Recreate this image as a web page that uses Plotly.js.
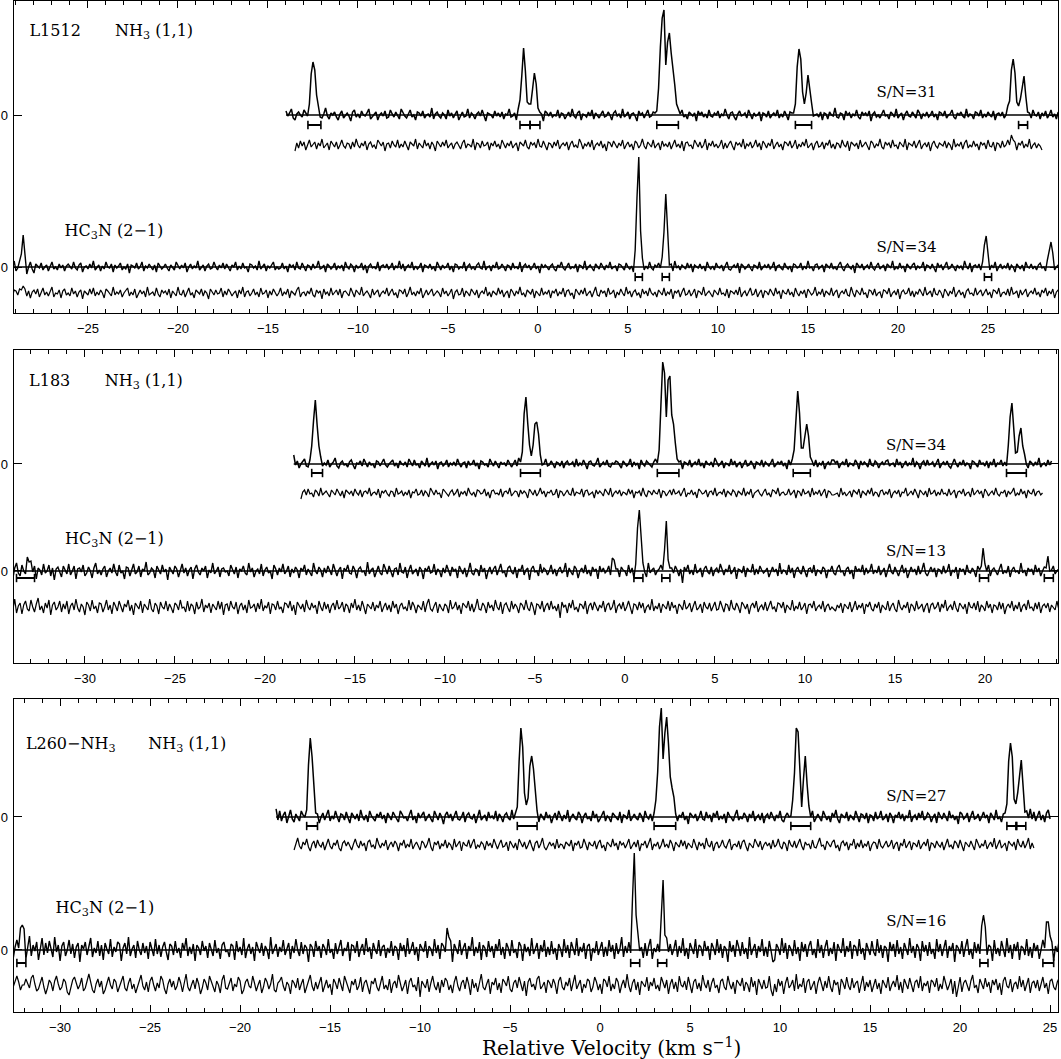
<!DOCTYPE html>
<html>
<head>
<meta charset="utf-8">
<script src="https://cdn.plot.ly/plotly-3.0.1.min.js"></script>
<style>html,body{margin:0;padding:0;background:#fff}#chart{width:1061px;height:1059px}</style>
</head>
<body>
<div id="chart"></div>
<script>
// ---------------- DATA (intensities in arbitrary units, channel step in km/s) ----------------
const STEP = 0.1;

// Panel 1: L1512
const l1512_nh3_start = -14.0;
const l1512_nh3_noise = [
4,-1,2,6,-3,-5,1,3,0,-2,5,2,-4,-1,3,-6,0,2,4,-2,-3,1,7,-1,-4,2,0,3,-2,-5,
1,4,-3,0,2,-1,-6,3,5,-2,1,-3,4,0,-1,2,6,-4,-2,1,3,-5,0,2,-1,4,-3,-2,5,1,
-2,3,0,-4,6,2,-1,-3,1,5,-2,0,-5,3,2,-1,4,-3,0,1,-2,7,-4,1,3,-1,-3,2,0,-4,
5,-1,2,-3,1,4,-5,0,3,-2,-1,6,-3,2,0,-4,1,3,-1,5,-2,-6,2,1,0,-3,4,-1,2,-2,
3,-4,1,0,6,-2,-1,2,-5,3,1,-3,4,0,-2,5,-1,-4,2,3,-3,0,1,-6,4,2,-1,3,-2,0,
-1,5,-3,2,1,-4,0,3,-2,6,-1,-3,2,4,-5,1,0,-2,3,-1,5,-4,2,0,-3,1,4,-2,-1,3,
0,-5,2,4,-1,1,-3,6,-2,0,3,-4,1,2,-1,-6,4,0,2,-3,1,5,-2,-1,3,0,-4,2,6,-3,
1,-2,3,-5,0,4,2,-3,1,-1,5,-2,0,-4,3,1,-1,2,-6,4,0,3,-2,1,-3,5,-1,-2,2,0,
4,-3,1,-1,6,0,-4,2,3,-2,-5,1,4,-1,0,2,-3,5,1,-4,2,-1,0,3,-6,2,1,-2,4,-3,
0,2,-1,5,-3,1,-2,4,0,-5,3,2,-1,-3,6,0,-2,1,3,-4,2,-1,5,-3,0,1,-2,3,-5,2,
1,-4,3,0,-1,7,-2,-3,2,1,-5,4,0,2,-3,1,-1,5,-2,-4,3,0,2,-1,4,-6,1,3,-2,0,
-3,2,5,-1,0,-4,3,1,-2,6,-3,0,2,-5,1,4,-1,-2,3,0,-3,5,2,-4,1,-1,3,-2,0,4,
-2,1,-5,3,2,-1,4,-3,0,1,5,-2,-4,2,0,3,-1,-3,6,-2,1,0,-4,3,2,-1,5,-3,1,-2,
3,0,-2,4,-5,1,2,-1,3,-3,0,6,-2,1,-4,2,-1,3,0,-5,4,1,-2,2,-3,5,0,-1,3,-4,
2,-1,4,-3,0,5,-2,1,-4,3];
const l1512_nh3_lines = [
[-12.8,3],[-12.7,12],[-12.6,38],[-12.5,59],[-12.4,45],[-12.3,18],[-12.2,5],
[-1.1,3],[-1.0,14],[-0.9,42],[-0.8,63],[-0.7,44],[-0.6,15],[-0.5,6],[-0.4,12],[-0.3,30],[-0.2,40],[-0.1,28],[0.0,10],[0.1,3],
[6.5,2],[6.6,8],[6.7,25],[6.8,62],[6.9,100],[7.0,104],[7.1,52],[7.2,70],[7.3,87],[7.4,62],[7.5,38],[7.6,28],[7.7,14],[7.8,5],[7.9,2],
[14.2,3],[14.3,14],[14.4,42],[14.5,66],[14.6,58],[14.7,22],[14.8,8],[14.9,26],[15.0,38],[15.1,24],[15.2,7],[15.3,2],
[26.1,3],[26.2,16],[26.3,44],[26.4,60],[26.5,40],[26.6,14],[26.7,6],[26.8,16],[26.9,32],[27.0,35],[27.1,18],[27.2,5]];
const l1512_nh3res_start = -13.5;
const l1512_nh3res_noise = [
-6,2,-3,4,-1,3,-5,1,5,-2,0,3,-4,2,-1,6,-3,0,2,-5,4,1,-2,3,-4,0,5,-1,-3,2,
1,-4,3,-2,6,0,-3,2,-1,4,-5,1,3,-2,0,-4,5,2,-1,3,-6,1,2,-3,4,0,-2,5,-3,1,
-2,4,0,-5,3,1,-1,6,-4,2,0,-3,5,-1,2,-4,3,0,-6,4,1,-2,3,-1,5,-3,0,2,-4,1,
3,-1,-4,2,5,-3,1,0,-2,6,-5,2,1,-3,4,-1,0,3,-5,2,-1,4,-2,1,-4,5,0,-3,2,-1,
4,-3,0,2,-6,3,1,-1,5,-2,-4,3,0,2,-3,6,-1,-2,4,0,-5,2,1,-3,3,-1,5,-4,0,2,
-1,3,-5,1,4,-2,0,-3,6,2,-4,1,-1,3,-2,5,-5,0,2,-1,4,-3,1,-6,3,2,-2,4,0,-3,
2,-1,5,-4,0,3,-2,1,-5,4,2,-3,0,6,-1,-4,3,1,-2,5,-3,0,2,-5,4,-1,1,-2,3,-4,
0,5,-2,1,-3,4,-6,2,3,-1,0,-4,5,1,-2,3,-3,0,6,-5,2,-1,4,-2,1,-3,0,5,-4,2,
-3,1,4,-1,-5,3,0,2,-2,6,-4,1,-1,3,-3,0,5,-2,2,-5,4,1,-3,2,-1,6,-4,0,3,-2,
1,-5,3,2,-1,4,-3,0,5,-4,1,-2,3,-1,6,-3,0,2,-5,1,4,-2,-1,3,-4,2,0,5,-3,1,
-4,2,1,-3,5,0,-2,4,-6,3,1,-1,2,-4,5,-2,0,3,-1,-5,4,2,-3,1,-1,6,-2,-4,3,0,
2,-3,5,-1,0,-4,3,1,-2,6,-5,2,0,-1,4,-3,1,5,-4,0,2,-2,3,-6,1,4,-1,-3,2,0,
-1,4,-3,2,0,-5,6,-2,1,-1,3,-4,2,5,-3,0,-2,4,-1,1,-5,3,0,2,-4,5,-1,-2,3,-6,
2,1,-3,4,-2,0,5,-4,1,-1,3,-5,2,0,4,-3,1,-2,6,-4,0,2,-3,1,-1,-5];
const l1512_nh3res_lines = [[26.2,4],[26.3,9],[26.4,6]];
const l1512_hc3n_start = -29.3;
const l1512_hc3n_noise = [
3,-2,6,-4,-1,2,-5,4,1,-3,0,5,-2,-6,3,1,-1,4,-3,0,2,-4,1,5,-2,0,-3,3,-1,2,
-4,1,3,0,-2,5,-1,-3,2,4,-5,0,1,-2,3,-1,6,-3,0,2,-4,1,-2,5,0,-1,3,-5,2,-1,
1,4,-3,0,-2,3,-6,2,1,-1,4,-2,0,5,-4,1,-1,3,0,-3,2,-5,4,1,-2,0,3,-1,-4,2,
0,-3,5,1,-2,2,-1,4,-5,0,3,-2,1,-1,6,-3,0,2,-4,1,3,-2,-1,5,0,-3,2,-1,4,-2,
3,-1,-4,2,0,5,-3,1,-2,4,-1,0,-5,3,2,-1,1,-3,6,-2,0,3,-4,1,-1,2,5,-3,0,-2,
-1,4,-2,1,-5,3,0,2,-3,5,-1,-2,4,0,-4,2,1,-3,3,-1,0,6,-2,-1,2,-5,3,1,-2,0,
4,-3,1,-1,2,-4,5,0,-2,3,1,-5,2,-1,0,4,-3,2,-6,1,3,-1,0,-2,5,-4,1,2,-1,3,
-2,0,4,-3,1,-1,6,-2,3,-4,0,2,-1,5,-3,1,-2,0,4,-5,2,1,-1,3,-2,0,-4,5,1,-3,
2,-1,0,4,-3,1,-5,3,2,-2,0,-1,5,-4,1,3,-2,0,-3,2,4,-1,-2,6,-3,0,1,-4,2,-1,
5,-2,-1,3,0,-4,2,1,-3,4,-1,0,-2,5,-5,1,3,-1,2,-3,0,4,-2,1,-6,3,-1,2,0,-3,
1,3,-2,-4,2,0,5,-1,-3,1,4,-2,0,-1,3,-5,2,1,-2,6,-3,0,2,-1,-4,3,1,-2,4,0,
-3,2,-1,5,-2,0,1,-4,3,2,-1,-3,4,0,-2,1,-5,3,-1,2,0,4,-3,1,-2,5,-1,-3,2,0,
4,-1,2,-5,1,0,-2,3,-4,6,-1,1,-3,2,0,-2,4,-1,3,-5,2,0,-1,3,-2,1,-4,5,0,-2,
1,-3,4,0,-1,2,-4,1,5,-2,-3,0,2,-1,4,-6,3,1,-2,0,3,-1,-4,2,1,-2,5,-3,0,2,
-1,3,-2,0,5,-4,1,2,-1,-3,4,0,-2,1,-5,3,2,-1,0,4,-3,1,-2,6,-1,0,-4,2,3,-2,
0,2,-5,3,1,-1,4,-2,0,-3,2,5,-1,-4,1,3,0,-2,2,-6,4,1,-1,3,-3,0,2,-2,5,-1,
-3,1,4,-2,0,2,-4,3,1,-1,6,-3,0,-2,4,-1,1,-5,3,0,-2,2,4,-3,1,-1,0,5,-4,2,
1,-2,3,-1,-5,4,0,2,-3,1,5,-2,-1,3,0,-4,2,-1,1,-3,6,0,-2,4,-5,1,2,-1,3,-3,
0,4,-2,1,-3,2,-1,5,-4,0,3,-2,1,-1,4,-3,2,0,-5,3,1,-2,2,-4,5,0,-1,3,-2,1,
-3,2,4,-1,0,-4,3,1,-2,5,-3,0,2,-1];
const l1512_hc3n_lines = [
[-28.8,5],[-28.7,18],[-28.6,28],[-28.5,12],[-28.4,-4],
[5.4,14],[5.5,70],[5.6,108],[5.7,36],[5.8,5],
[6.9,8],[7.0,40],[7.1,72],[7.2,30],[7.3,4],
[24.7,5],[24.8,18],[24.9,33],[25.0,12],
[28.3,4],[28.4,14],[28.5,27],[28.6,9]];
const l1512_hc3nres_start = -29.3;
const l1512_hc3nres_noise = [
1,-4,3,2,-2,4,3,7,4,-3,2,-5,1,3,-1,4,-4,0,5,-2,1,-3,2,6,-4,0,-1,3,-5,2,
4,-2,0,-3,5,-1,2,-4,1,3,-6,2,0,-2,4,-1,5,-3,1,-2,3,0,-5,4,2,-1,-3,6,-2,1,
-1,3,-4,0,2,5,-3,1,-2,4,-5,0,3,-1,2,-4,6,-2,0,1,-3,5,-1,-4,3,0,2,-2,4,-5,
2,0,-3,6,-1,-2,3,-4,1,5,-2,0,-5,3,1,-1,4,-3,2,0,-6,4,1,-2,3,-1,0,5,-4,2,
-2,4,1,-3,0,2,-5,3,-1,6,-4,1,2,-3,0,4,-2,1,-4,5,-1,0,3,-5,2,-2,4,1,-3,0,
5,-3,1,-1,4,-5,2,0,-2,3,6,-4,0,1,-3,2,-1,5,-2,-4,3,0,2,-6,4,-1,1,-3,5,-2,
0,3,-2,4,-5,1,2,-1,-3,5,0,-4,3,1,-2,6,-3,0,2,-1,-5,4,-2,1,3,-4,0,2,-1,5,
-3,1,4,-2,0,-5,3,2,-1,4,-4,0,6,-2,1,-3,2,-1,5,-5,0,3,-2,1,4,-3,-1,2,0,-4,
5,-1,2,-3,0,4,-6,1,3,-2,-1,5,-4,2,0,-3,4,1,-2,3,-5,0,2,-1,6,-3,1,-4,2,0,
-2,5,-1,3,-4,0,2,-5,4,1,-3,2,-1,6,-2,0,-4,3,1,-1,4,-5,2,0,-3,5,-2,1,-1,3,
-5,2,0,4,-3,1,-1,5,-4,2,3,-2,0,-6,4,1,-2,3,-1,5,-3,0,2,-4,1,6,-2,-3,3,0,
2,-4,5,-1,0,3,-5,1,-2,4,0,-3,6,-1,2,-4,1,3,-2,0,-5,4,-1,2,-3,5,0,-2,1,-4,
3,0,-2,5,-3,1,-1,4,-6,2,0,3,-4,1,5,-2,-1,3,-3,0,4,-5,2,1,-2,6,-3,0,2,-1,
-4,3,1,-2,5,-1,0,-3,4,-5,2,1,-1,3,-2,6,-4,0,2,-3,1,5,-2,-1,4,-4,0,3,-5,2,
1,-2,4,0,-3,5,-1,2,-6,3,0,-1,4,-2,1,-4,5,0,-3,2,-1,3,-5,4,1,-2,0,6,-3,1,
-1,4,-4,2,0,-2,5,-3,1,3,-5,0,2,-1,4,-2,-3,6,0,-4,3,1,-2,5,-1,0,-5,3,2,-2,
4,-3,0,1,-5,3,2,-1,5,-4,0,2,-2,4,-6,1,3,-1,0,5,-3,2,-4,1,-1,4,0,-3,6,-2,
0,2,-4,5,-1,-2,3,0,-5,4,1,-3,2,-1,6,-4,0,3,-2,1,-5,2,4,-1,0,-3,5,-2,1,3,
-3,0,4,-2,1,-5,3,2,-1,5,-4,0,1,-2,4,-3,6,-1,0,2,-5,3,-2,1,4,-4,0,2,-1,5,
-2,1,-4,3,0,5,-3,2,-1,4,-5,1,3,-2];
const l1512_hc3nres_lines = [];

// Panel 2: L183
const l183_nh3_start = -18.4;
const l183_nh3_noise = [
9,-1,3,-4,0,2,5,-2,-3,1,4,-1,0,-5,2,3,-2,1,-1,4,-3,0,2,6,-2,-4,1,3,-1,0,
-3,2,4,-1,-5,1,0,3,-2,5,1,-3,2,-1,0,-4,3,2,-2,1,5,-1,-3,0,2,4,-2,1,-4,3,
0,-1,2,-3,5,1,-2,4,-1,0,-4,3,1,-2,6,-3,0,2,-1,3,-5,1,2,-2,0,4,-3,1,-1,2,
-2,5,0,-3,1,2,-4,3,-1,0,4,-2,1,-5,3,2,-1,0,-3,5,1,-2,3,-1,-4,2,0,1,-2,4,
1,-3,0,4,-2,6,-1,-3,2,1,-5,3,0,-1,2,-2,4,1,-3,0,5,-2,-1,3,0,-4,2,1,-2,3,
-4,1,3,-1,0,2,-3,5,-2,1,-1,4,0,-5,2,3,-1,-2,1,6,-3,0,2,-1,4,-2,-3,1,0,3,
2,-1,-4,3,1,-2,0,5,-3,2,-1,1,-5,4,0,-2,3,1,-1,-3,2,5,-2,0,1,-4,3,-1,2,0,
-3,4,1,-2,0,3,-5,2,1,-1,4,-3,0,2,-1,5,-2,1,-4,3,0,-1,2,-3,6,1,-2,0,3,-4,
1,0,-2,5,-1,3,-3,0,2,-4,1,4,-2,-1,3,0,-5,2,1,-1,4,-3,2,0,-2,1,5,-3,-1,2,
0,3,-2,1,-5,4,-1,2,0,-3,3,1,-2,6,-1,-4,2,0,1,-2,4,-3,1,-1,3,-5,0,2,-1,4,
-2,1,3,-4,0,2,-1,5,-3,1,0,-2,4,1,-5,3,-1,2,0,-3,5,-1,-2,3,1,-4,0,2,-1,3,
4,-2,0,1,-3,5,-1,2,-4,0,3,-2,1,-1,6,-3,2,0,-5,1,3,-2,4,-1,0,2,-3,1,5,-4,
0,2,-1,3,-2,-4,1,5,0,-3,2,-1,4,-2,1,0,-5,3,2,-1,-3,4,0,1,-2,3,-4,2,-1,5,
-3,1,0,4,-2,2,-5,3,1,-1,0,-3,4,2,-1,-2,5,0,-4,3,1,-2,2,-1,6,-3,0,1,-2,4,
-1,3];
const l183_nh3_lines = [
[-17.5,3],[-17.4,14],[-17.3,44],[-17.2,64],[-17.1,44],[-17.0,16],[-16.9,4],
[-5.8,3],[-5.7,15],[-5.6,48],[-5.5,66],[-5.4,46],[-5.3,16],[-5.2,8],[-5.1,20],[-5.0,38],[-4.9,44],[-4.8,26],[-4.7,8],[-4.6,2],
[1.8,3],[1.9,14],[2.0,58],[2.1,106],[2.2,88],[2.3,48],[2.4,82],[2.5,88],[2.6,52],[2.7,36],[2.8,20],[2.9,7],[3.0,2],
[9.3,3],[9.4,14],[9.5,46],[9.6,70],[9.7,50],[9.8,18],[9.9,10],[10.0,30],[10.1,44],[10.2,26],[10.3,7],[10.4,2],
[11.6,6],
[21.2,3],[21.3,16],[21.4,46],[21.5,62],[21.6,40],[21.7,14],[21.8,8],[21.9,26],[22.0,37],[22.1,20],[22.2,5]];
const l183_nh3res_start = -18.0;
const l183_nh3res_noise = [
-6,1,3,-2,4,-1,0,-4,3,1,-3,5,-2,0,2,-1,-4,3,1,-2,4,0,-3,2,-5,3,1,-1,2,-3,
4,0,-2,3,-4,1,2,-1,5,-3,0,1,-2,4,-5,2,0,3,-1,-3,2,1,-4,5,-1,0,2,-3,1,-2,
3,-5,1,0,4,-2,-1,3,-3,2,0,-4,5,1,-2,3,-1,0,-5,4,2,-1,-3,1,3,-2,0,4,-4,1,
-1,2,-3,5,0,-2,1,-4,3,2,-1,0,4,-3,1,-5,2,3,-1,0,-2,4,-4,1,2,-1,5,-3,0,2,
1,-4,3,-1,2,0,-5,4,1,-2,3,-3,0,5,-1,2,-4,1,0,3,-2,-1,4,-5,2,1,-3,0,3,-1,
-2,5,-3,1,0,-1,4,-4,2,3,-2,0,1,-5,3,-1,2,0,-3,4,1,-2,5,-4,0,2,-1,3,-3,1,
0,-2,4,-1,3,-5,1,0,2,-3,5,-1,-4,2,1,-2,3,0,-1,4,-5,2,1,-3,0,3,-2,4,-1,0,
2,-3,1,5,-4,0,-1,3,-2,1,-5,4,2,-1,0,3,-4,1,2,-2,5,-3,0,1,-1,4,-4,2,0,-2,
3,1,-4,2,0,-2,5,-3,1,-1,4,-5,0,2,3,-1,-3,1,4,-2,0,-4,3,2,-1,5,-3,0,1,-2,
-1,4,-2,0,3,-5,2,1,-3,4,-1,0,2,-4,5,-2,1,-1,3,-3,0,4,-5,2,1,-2,3,-1,0,-4,
5,-2,1,-3,0,2,-4,3,1,-1,4,-5,2,0,-2,3,-1,5,-3,1,0,-4,2,3,-2,1,-1,4,-5,0,
2,-1,3,-4,1,0,5,-3,-1,2,-2,4,0,-5,3,1,-2,2,-4,5,-1,0,3,-3,1,-2,4,-1,0,-3,
4,-2,0,3,-5,1,2,-1,4,-3,0,1,-4,5,-2,0,3,-1,2,-5,4,1,-3,0,2,-2,5,-1,-3,1,
0,3,-4,2,-1,1,5,-3,0,-2,4,-1,2,-5,3,0,-1,4,-3,1,2,-2,0];
const l183_nh3res_lines = [[11.6,-5]];
const l183_hc3n_start = -34.1;
const l183_hc3n_noise = [
4,-7,3,8,-2,-5,6,0,-3,9,-6,2,-1,5,-8,3,1,-4,7,-2,0,6,-5,3,-9,2,4,-1,-6,5,
1,-3,7,-4,0,5,-8,2,3,-1,6,-5,-2,4,0,-7,3,8,-3,1,-4,2,5,-6,0,3,-2,7,-1,-5,
6,-2,0,-8,4,3,-5,1,7,-3,-1,5,-6,2,0,9,-4,-2,3,1,-7,5,0,-3,6,-1,2,-9,4,1,
-3,5,2,-6,0,7,-2,3,-5,1,4,-8,2,6,-1,-4,3,0,5,-7,1,-2,8,-3,0,4,-6,2,3,-1,
0,-5,6,1,-3,4,-7,2,0,5,-2,-4,8,-1,3,-6,0,2,-3,7,-5,1,4,-2,0,-8,6,2,-4,3,
-1,7,-3,0,5,-6,2,-2,4,1,-7,3,0,6,-4,2,-1,-5,8,0,-3,4,1,-6,3,-2,5,0,-4,7,
2,-5,1,4,-8,3,0,6,-2,-3,5,1,-7,2,4,-1,0,-5,9,-3,1,3,-6,0,5,-2,-4,7,1,-3,
5,0,-6,2,3,-4,8,-1,-2,4,-7,1,6,-3,0,2,-5,4,1,-8,3,0,5,-2,-1,7,-4,2,0,-6,
3,-2,6,-1,-5,4,0,2,-7,5,1,-3,3,-6,0,8,-2,-4,2,1,-5,6,-1,3,-8,0,4,-3,2,5,
-4,1,7,-2,0,-6,3,5,-1,-3,4,-7,2,0,6,-4,1,3,-9,2,5,-1,0,-5,7,-2,3,1,-4,0,
6,-3,2,-5,1,4,-2,0,8,-6,3,-1,-4,5,2,-7,0,3,-2,6,-3,1,-5,4,0,2,-8,5,-1,3,
-2,0,5,-4,7,-1,-3,2,-6,4,1,0,-5,6,-2,3,-7,1,5,-3,0,4,-1,-6,8,-2,1,3,-4,0,
2,6,-3,-1,4,-7,0,3,-2,5,1,-5,2,-12,4,0,6,-3,1,-4,7,-2,0,3,-6,2,5,-1,-3,4,
-5,1,3,-2,7,0,-4,2,-1,6,-3,0,4,-8,2,1,-2,5,-6,3,0,-1,7,-4,2,-3,5,1,-2,0,
3,-6,0,4,-1,2,-5,8,-3,1,0,-4,6,-2,3,-7,1,4,-1,-3,5,0,-6,2,3,-2,6,-5,1,0,
-3,4,2,-7,1,0,5,-2,-4,3,6,-1,0,-5,2,4,-3,1,-8,5,0,2,-1,6,-4,3,-2,0,7,-3,
1,-2,5,-4,0,3,-6,2,7,-1,-3,4,0,-5,1,6,-2,3,-7,0,4,-1,2,-4,5,-3,1,8,-2,-5,
0,4,-1,3,-6,2,1,-3,5,-2,0,7,-5,1,-1,4,-8,3,0,2,-4,6,-1,-2,3,0,-6,5,1,-3,
4,-2,0,6,-5,1,3,-1,-4,2,7,-3,0,-2,5,-6,1,4,-1,0,-3,8,-2,1,-5,3,0,2,-4,6,
-1,3,-5,0,4,-2,2,-6,1,5,-3,0,2,-1];
const l183_hc3n_lines = [
[-33.2,5],[-33.1,15],[-33.0,8],
[-0.7,6],[-0.6,12],[-0.5,5],
[0.6,6],[0.7,38],[0.8,64],[0.9,28],[1.0,4],
[2.1,4],[2.2,22],[2.3,46],[2.4,18],[2.5,3],
[19.8,8],[19.9,19],[20.0,9],
[23.4,5],[23.5,13],[23.6,6]];
const l183_hc3nres_start = -34.1;
const l183_hc3nres_noise = [
5,-3,8,-6,1,4,-7,2,6,-2,-4,7,0,-5,3,9,-3,1,-6,4,-1,7,-8,2,5,-3,0,6,-5,3,
-2,6,-7,1,4,-3,8,-1,-5,3,0,-8,5,2,-4,7,-2,1,-6,4,3,-5,0,7,-3,2,-7,5,1,-4,
6,-1,-5,3,0,7,-4,2,-8,4,1,-2,6,-6,3,0,-3,8,-2,-5,4,1,-7,5,0,-2,6,-4,3,-1,
-6,4,2,-3,7,-1,0,-5,6,-4,3,1,-7,5,-2,0,8,-5,2,-1,4,-6,3,0,-3,6,-2,5,-8,2,
3,-4,6,0,-2,5,-7,1,4,-3,2,-6,7,-1,0,3,-5,4,-2,8,-4,1,-1,5,-7,3,2,-3,6,-2,
0,-6,4,3,-1,6,-4,2,-8,5,1,-2,3,-5,7,0,-3,4,-1,2,-7,6,0,-4,5,-2,3,-6,1,4,
-3,7,-2,0,5,-5,3,1,-6,4,-1,8,-3,2,-4,6,0,-7,3,1,-2,5,-4,2,-1,6,-5,0,4,-3,
2,-5,6,-1,3,-7,1,4,-2,0,-4,7,-3,5,1,-6,2,0,-3,6,-5,3,8,-2,-4,1,5,-6,3,-1,
-4,3,1,-6,7,-2,0,5,-3,2,-7,4,1,-1,6,-4,3,-5,0,8,-2,-3,4,1,-6,5,-1,2,-4,7,
0,-3,5,-7,2,4,-1,-5,6,-2,3,0,-6,4,2,-3,7,-1,-4,5,0,-8,3,2,-2,6,-5,1,4,-3,
6,-2,1,-4,3,-11,5,0,2,-6,4,-1,7,-3,0,-5,3,2,-2,6,-7,1,4,-3,5,0,-4,2,-1,6,
-5,2,4,-3,0,7,-6,1,3,-2,5,-4,0,6,-1,-7,3,2,-3,5,-1,4,-6,0,2,-3,8,-4,1,-2,
4,-6,3,0,-2,6,-4,5,-1,2,-7,3,1,-3,7,-2,0,4,-5,1,6,-3,-1,3,-6,5,0,-2,4,-4,
1,5,-3,-2,6,0,-5,3,2,-4,7,-1,-3,4,0,-6,5,2,-2,3,-7,1,4,-1,6,-5,0,2,-3,5,
-4,1,6,-2,0,-5,4,3,-1,5,-6,2,0,-3,7,-4,1,-2,5,-3,0,4,-7,2,3,-1,6,-4,0,2,
-2,6,-5,1,3,-3,0,7,-4,2,-1,4,-6,3,1,-2,5,-5,0,6,-3,2,-1,4,-7,3,0,5,-2,-4,
3,-1,5,-6,2,0,-3,6,-4,1,4,-2,-5,7,0,-3,2,-1,5,-6,3,1,-4,6,-2,0,3,-5,1,4,
-6,2,4,-2,0,5,-5,3,-1,7,-4,0,2,-3,6,-1,-5,4,1,-2,3,-7,5,0,-1,4,-3,6,-5,2,
0,-4,6,-1,3,-6,2,1,-3,5,-2,4,-7,0,3,-1,6,-4,2,-2,5,-5,1,3,-3,7,-1,0,-4,4,
-2,5,-6,1,3,-1,4,-5,2,0,-3,6,-2,1];
const l183_hc3nres_lines = [[11.6,-9]];

// Panel 3: L260-NH3
const l260_nh3_start = -18.0;
const l260_nh3_noise = [
8,-3,6,-4,2,5,-6,1,7,-2,-5,3,0,-4,6,2,-3,-7,4,1,-2,5,-1,3,-6,0,4,-3,2,7,
-4,1,-2,6,0,-5,3,2,-3,5,-1,-6,4,1,-2,3,-4,7,0,-3,2,-5,6,1,-1,-4,3,0,5,-2,
2,-6,4,0,-3,5,1,-2,-5,6,3,-1,0,-4,2,7,-3,1,-6,4,-1,2,5,-4,0,3,-2,-5,6,1,
-3,4,0,-7,2,5,-1,3,-4,1,6,-2,-3,0,5,-5,2,4,-1,-2,3,-6,1,7,-3,0,2,-4,5,-1,
1,-2,6,-4,3,0,-5,2,4,-1,-3,7,-2,1,-6,3,5,0,-4,2,-1,6,-3,-2,4,1,-5,3,0,-3,
5,-1,2,-6,0,4,-3,6,1,-4,2,-2,7,-5,0,3,-1,-3,5,2,-6,1,4,-2,0,-4,6,-1,3,-5,
-2,3,6,-4,1,-1,-5,4,2,0,-3,5,-6,2,1,-2,7,-4,0,3,-1,-3,4,1,-5,6,0,-2,3,-4,
1,5,-3,0,-6,2,4,-1,3,-5,1,6,-2,-4,2,0,5,-3,1,-7,4,2,-1,3,-4,0,6,-2,-3,5,
-1,2,-5,4,0,6,-3,1,-2,3,-6,5,1,-1,-4,2,7,-3,0,-2,4,1,-5,3,-1,6,-4,0,2,-3,
4,-6,1,3,-2,5,0,-4,2,-1,6,-3,-5,1,4,0,-2,3,-6,7,-1,2,-4,0,5,-3,1,-2,6,-5,
0,3,-1,-4,6,2,-3,1,-5,4,0,7,-2,-6,3,1,-1,5,-4,2,0,-3,6,-1,-5,3,2,-2,4,-6,
2,1,-4,5,-2,0,6,-3,-1,3,-5,4,1,-6,2,0,5,-2,3,-4,1,-1,7,-5,0,2,-3,4,-1,6,
-3,-1,4,2,-5,0,3,-6,5,1,-2,4,0,-4,6,-1,2,-3,1,-7,5,3,-2,0,4,-5,1,6,-2,-1,
3,-4,0,5,-1,2,-6,4,1,-3,7,-2,0,-5,3,1,-1,6,-4,2,-2,5,0,-6,3,1,-3,4,-1,8,
-2,5,-4,1,6,-3,2,-5,4,7,-2];
const l260_nh3_lines = [
[-16.4,3],[-16.3,14],[-16.2,48],[-16.1,78],[-16.0,62],[-15.9,22],[-15.8,5],
[-4.7,3],[-4.6,16],[-4.5,52],[-4.4,84],[-4.3,70],[-4.2,28],[-4.1,10],[-4.0,20],[-3.9,45],[-3.8,64],[-3.7,50],[-3.6,20],[-3.5,5],
[3.0,3],[3.1,12],[3.2,48],[3.3,90],[3.4,115],[3.5,56],[3.6,80],[3.7,101],[3.8,70],[3.9,45],[4.0,28],[4.1,14],[4.2,5],
[10.6,3],[10.7,14],[10.8,50],[10.9,82],[11.0,86],[11.1,40],[11.2,14],[11.3,38],[11.4,56],[11.5,36],[11.6,10],[11.7,2],
[22.5,3],[22.6,14],[22.7,50],[22.8,78],[22.9,58],[23.0,20],[23.1,8],[23.2,24],[23.3,46],[23.4,54],[23.5,30],[23.6,8],[23.7,2]];
const l260_nh3res_start = -17.0;
const l260_nh3res_noise = [
-5,2,7,-1,-4,3,0,6,-2,-6,1,4,-3,5,0,-2,3,-5,1,6,-1,-4,2,0,5,-3,-6,2,4,-1,
3,-2,-5,1,6,0,-3,4,-1,2,-6,3,5,-2,0,-4,7,1,-3,2,-1,5,-5,0,3,-2,4,1,-6,2,
0,5,-3,1,-2,6,-4,0,3,-1,-5,4,2,-3,1,7,-2,-6,3,0,4,-4,1,-1,5,-3,2,0,-5,6,
-2,1,4,-6,3,0,-1,5,-3,2,6,-4,0,-2,3,1,-5,4,-1,2,-3,6,0,-4,1,5,-2,-1,3,-6,
4,0,-3,2,-5,6,1,-2,3,-4,0,5,-1,-6,2,4,-3,1,7,-2,-5,0,3,-1,2,-4,6,-3,1,0,
-4,3,1,-1,5,-6,2,0,4,-3,-2,6,1,-5,3,0,-1,4,-4,2,5,-3,0,-6,3,1,-2,6,-1,2,
-5,4,0,2,-3,1,6,-4,-1,3,-2,5,-6,1,0,4,-3,2,7,-5,1,-1,3,-4,0,6,-2,1,-3,5,
1,-6,3,0,-2,5,-1,4,-4,2,0,-3,6,1,-5,3,-1,2,-4,7,0,-2,4,-6,1,3,-3,0,5,-1,
-3,2,6,-5,0,1,-2,4,-4,3,5,-1,-6,2,0,-3,6,1,-2,4,-5,0,3,-1,2,-4,5,-2,0,6,
-1,-4,3,1,-6,5,0,-2,4,-3,2,6,-1,-5,3,0,1,-4,5,-2,-3,2,7,-1,0,-5,4,1,-2,3,
5,-3,0,-6,2,4,-1,3,-5,1,0,6,-4,2,-2,5,-3,1,-1,4,-6,0,3,2,-4,6,-1,-3,1,4,
-2,0,5,-4,1,3,-6,2,-1,6,-3,0,4,-5,2,1,-2,5,-4,0,3,-1,6,-6,2,1,-3,4,0,-2,
3,-5,1,6,-2,0,-4,4,2,-3,5,-1,-6,3,1,-2,4,0,-5,6,2,-3,1,-1,5,-4,0,3,-2,7,
-4,1,5,-3,0,2,-6,4,1,-1,3,-5,6,0,-2,4,-3,1,7,-4,2,-3];
const l260_nh3res_lines = [];
const l260_hc3n_start = -32.7;
const l260_hc3n_noise = [
5,-8,3,10,-4,6,-2,11,-9,4,14,-6,5,-1,8,-10,2,12,-5,7,-3,9,1,-7,13,-2,5,-11,4,8,
-6,0,10,-4,6,-8,3,7,-12,5,1,8,-5,4,12,-7,2,-3,9,-6,5,-10,7,1,-4,11,-7,3,-2,8,
6,-11,2,7,-4,13,-6,1,5,-8,9,0,-5,7,-3,4,-9,8,1,-6,11,-4,5,-7,3,8,-2,-10,6,4,
-5,9,-3,2,-8,7,0,12,-6,3,-4,6,-11,5,2,-5,9,-1,4,-8,7,1,-6,10,-3,2,-9,5,8,-2,
0,-7,6,4,-10,9,-2,3,-5,12,-8,1,6,-4,3,-11,8,2,-3,7,-6,4,0,-9,13,-4,2,6,-7,3,
-2,10,-5,1,7,-9,4,-3,11,0,-6,8,-4,5,2,-12,6,3,-7,9,-1,4,-8,6,2,-5,11,-3,1,-9,
7,-4,3,10,-6,2,-1,8,-11,5,4,-3,9,-7,1,6,-5,12,-2,3,-9,7,0,-4,10,-6,3,5,-8,2,
-3,9,-6,4,2,-10,7,-1,5,-7,12,-4,1,8,-5,3,-11,6,2,-2,9,-8,4,1,-6,11,-3,5,-9,7,
4,-2,8,-7,3,-12,6,1,-4,10,-5,2,7,-9,4,-1,13,-6,3,-3,8,-10,5,2,-7,9,-2,4,-8,6,
-1,11,-5,3,-9,7,2,-6,10,-3,1,-8,8,4,-11,6,-2,3,-6,12,-4,1,7,-9,5,-2,10,-7,3,-5,
9,-4,2,-10,6,1,-7,11,-3,5,-8,8,0,-5,12,-6,3,-2,7,-9,4,6,-11,2,-3,9,-5,1,8,-7,
3,-6,10,-2,5,-9,7,-4,1,13,-7,4,-3,8,-11,6,2,-5,10,-1,3,-8,7,-6,4,11,-9,2,-2,6,
-8,5,3,-11,9,-2,6,-5,1,10,-7,4,-3,12,-6,2,-9,7,1,-4,11,-8,5,3,-6,9,-1,4,-10,7,
2,-5,11,-3,6,-8,4,1,-12,9,-2,5,-7,10,3,-6,8,-4,2,-9,13,-5,1,6,-8,4,-2,11,-6,3,
-7,9,-1,4,-10,6,2,-5,12,-3,7,-9,5,1,-6,10,-4,3,-11,8,-2,6,-7,4,9,-5,1,-8,11,-3,
5,-8,3,10,-6,2,-4,8,-11,6,1,-3,12,-7,4,-2,9,-9,5,3,-6,11,-4,2,-10,7,1,-5,9,-2,
-6,11,-3,5,-8,4,2,-12,8,-1,6,-7,10,-4,3,-9,7,1,-5,12,-3,4,-8,6,2,-11,9,-2,5,-6,
8,-4,1,-9,11,-2,6,-6,3,10,-8,4,-1,7,-12,5,2,-4,9,-7,3,11,-5,1,-9,8,-3,6,-10,4,
-2,7,-8,5,3,-11,10,-4,2,-6,9,1,-7,12,-3,5,-9,6,-1,8,-10,4,2,-5,11,-6,3,-8,7,-1,
5,-9,3,10,-4,6,-7,2,8,-11,4,-2,9,-5];
const l260_hc3n_lines = [
[-32.3,6],[-32.2,16],[-32.1,27],[-32.0,10],
[-8.5,14],[-8.4,20],[-8.3,6],
[1.7,8],[1.8,45],[1.9,95],[2.0,40],[2.1,5],
[3.3,6],[3.4,32],[3.5,67],[3.6,26],[3.7,3],
[9.6,-16],
[21.1,6],[21.2,20],[21.3,37],[21.4,16],[21.5,3],
[24.7,6],[24.8,22],[24.9,35],[25.0,12]];
const l260_hc3nres_start = -32.7;
const l260_hc3nres_noise = [
-7,-2,4,9,3,-5,-8,0,6,2,-3,7,10,1,-6,-4,3,8,-2,-9,-3,5,2,-6,4,9,1,-5,-2,6,
3,-7,-10,-1,5,8,2,-4,0,7,-6,-3,4,11,3,-5,-8,1,6,-2,4,-9,-5,2,8,0,-4,6,3,-7,
-1,5,9,-3,-6,2,7,-4,1,-8,-2,6,10,-1,-5,3,-7,4,8,0,-6,2,-3,9,5,-4,-9,1,6,-2,
4,-5,-1,8,2,-7,3,11,-2,-6,0,5,-4,7,1,-9,-3,6,2,-5,9,3,-1,-7,4,0,-8,5,10,-3,
-4,2,7,-6,1,-2,8,4,-9,-5,3,6,-1,-3,9,2,-6,0,5,-8,-2,7,3,-4,1,11,-5,-7,2,4,
8,-1,-6,3,0,-9,5,2,-3,7,-5,1,6,-8,-2,4,10,-1,-6,3,-4,2,8,-7,0,5,-3,1,-10,6,
2,-4,7,1,-6,9,3,-2,-8,4,0,6,-5,-1,8,-7,2,5,-3,-9,4,1,7,-2,-6,3,9,-4,0,-5,
6,-8,1,4,-3,10,2,-6,-1,5,-9,3,7,-2,0,-6,8,-12,4,1,-3,6,-7,2,9,-1,-5,3,-8,5,
-2,7,4,-5,0,-8,3,9,-1,-6,2,5,-4,8,1,-10,6,-3,2,-7,4,11,-2,-5,1,6,-9,3,0,7,
-5,2,-8,6,3,-1,9,-4,-7,2,5,-3,8,0,-6,4,-11,3,7,-2,1,-5,6,9,-4,-1,3,-8,5,2,
-3,6,1,-9,4,8,-2,-5,3,-1,7,-6,2,10,-4,0,5,-8,1,-3,6,4,-7,-2,8,3,-5,1,-9,6,
4,-2,9,-6,1,-4,7,3,-8,0,5,-3,11,-1,-7,2,6,-5,3,-10,4,1,-2,8,-6,3,-1,7,-4,0,
-6,8,2,-3,5,-9,1,6,-4,3,-7,9,0,-2,4,-5,8,-1,-8,3,6,-4,2,-6,10,1,-3,5,-7,2,
7,-3,0,-8,4,6,-2,-5,9,1,-4,3,-9,5,2,-1,7,-6,3,0,-7,8,-2,4,-10,6,1,-4,5,-3,
-2,9,-5,3,1,-7,6,-1,4,-9,2,8,-3,0,5,-6,11,-4,1,-2,7,-8,3,6,-5,0,4,-9,2,8,
1,-6,4,-3,9,-2,-7,5,0,3,-10,6,2,-4,8,-1,-5,7,-3,2,4,-8,1,9,-6,3,-2,5,-7,0,
6,-4,2,-9,5,1,-3,8,-6,0,4,-2,10,-5,3,-8,6,1,-4,7,-1,-7,3,5,-3,9,-6,2,-1,4,
-8,5,3,-2,7,-6,1,-4,9,2,-5,0,6,-9,4,1,-3,8,-7,2,5,-1,-6,4,10,-3,0,-8,6,1,
-4,7,-2,3,-8,5,0,6,-5,2,-10,4,8,-1,-3,6,-7,1,3,-4,9,-2,5,-6,0,7,-8,2,4,-3,
5,-6,1,8,-3,2,-9,4,6,-2,-5,3,7,-4];
const l260_hc3nres_lines = [[-32.1,8],[9.6,-14],[19.8,-13]];

// Fit windows (km/s) drawn under the lines
const l1512_nh3_win = [[-12.78,-12.06],[-1.0,-0.44],[-0.44,0.11],[6.6,7.8],[14.3,15.2],[26.7,27.2]];
const l1512_hc3n_win = [[5.4,5.8],[6.9,7.3],[24.8,25.2]];
const l183_nh3_win = [[-17.4,-16.8],[-5.8,-4.7],[1.8,3.0],[9.35,10.3],[21.2,22.3]];
const l183_hc3n_win = [[-33.8,-32.8],[0.5,1.0],[2.05,2.5],[19.7,20.2],[23.3,23.8]];
const l260_nh3_win = [[-16.3,-15.7],[-4.6,-3.5],[3.0,4.2],[10.6,11.7],[22.6,23.1],[23.15,23.65]];
const l260_hc3n_win = [[-32.4,-31.9],[1.7,2.2],[3.2,3.7],[21.1,21.55],[24.6,25.2]];

const xTickStep = 5;
const yTickText = ['0', '0'];
const snLabels = [['S/N=31', 'S/N=34'], ['S/N=34', 'S/N=13'], ['S/N=27', 'S/N=16']];
const sourceNames = ['L1512', 'L183', 'L260\u2212NH<sub>3</sub>'];
const nh3Label = 'NH<sub>3</sub> (1,1)';
const hc3nLabel = 'HC<sub>3</sub>N (2\u22121)';
const xTitle = 'Relative Velocity (km s<sup>\u22121</sup>)';

// ---------------- BUILD ----------------
function build(start, noise, lines, off) {
  const y = noise.slice();
  for (const [v, t] of lines) {
    const k = Math.round((v - start) / STEP);
    if (k >= 0 && k < y.length) y[k] += t;
  }
  const x = noise.map((_, i) => +(start + i * STEP).toFixed(3));
  return { x: x, y: y.map(v => v + off) };
}

const panels = [
  { ax: '', nh3: [l1512_nh3_start, l1512_nh3_noise, l1512_nh3_lines], nh3r: [l1512_nh3res_start, l1512_nh3res_noise, l1512_nh3res_lines],
    hc: [l1512_hc3n_start, l1512_hc3n_noise, l1512_hc3n_lines], hcr: [l1512_hc3nres_start, l1512_hc3nres_noise, l1512_hc3nres_lines],
    nwin: l1512_nh3_win, hwin: l1512_hc3n_win,
    off: { nh3: 152, nh3r: 122, hcr: -26 }, yr: [-46, 266], xr: [-29.11, 28.89], dom: [0.6914, 1.0],
    wdrop: [10, 10], lab: { name: [-28.25, 235], nh3: [-23.5, 235], hc: [-26.3, 35], sn1: [18.8, 174], sn2: [18.8, 19] } },
  { ax: '2', nh3: [l183_nh3_start, l183_nh3_noise, l183_nh3_lines], nh3r: [l183_nh3res_start, l183_nh3res_noise, l183_nh3res_lines],
    hc: [l183_hc3n_start, l183_hc3n_noise, l183_hc3n_lines], hcr: [l183_hc3nres_start, l183_hc3nres_noise, l183_hc3nres_lines],
    nwin: l183_nh3_win, hwin: l183_hc3n_win,
    off: { nh3: 107, nh3r: 78, hcr: -36 }, yr: [-92, 221], xr: [-33.94, 24.06], dom: [0.3452, 0.6548],
    wdrop: [9, 7], lab: { name: [-33.1, 189], nh3: [-28.9, 189], hc: [-31.1, 31], sn1: [14.5, 125], sn2: [14.5, 19] } },
  { ax: '3', nh3: [l260_nh3_start, l260_nh3_noise, l260_nh3_lines], nh3r: [l260_nh3res_start, l260_nh3res_noise, l260_nh3res_lines],
    hc: [l260_hc3n_start, l260_hc3n_noise, l260_hc3n_lines], hcr: [l260_hc3nres_start, l260_hc3nres_noise, l260_hc3nres_lines],
    nwin: l260_nh3_win, hwin: l260_hc3n_win,
    off: { nh3: 133, nh3r: 105, hcr: -35 }, yr: [-62, 251], xr: [-32.56, 25.44], dom: [0, 0.3096],
    wdrop: [9, 13], lab: { name: [-31.9, 205], nh3: [-25.1, 205], hc: [-30.25, 41], sn1: [15.9, 153], sn2: [15.9, 28] } }
];

const traces = [];
const layout = {
  width: 1061, height: 1059,
  margin: { l: 14, r: 3, t: 1, b: 47 },
  paper_bgcolor: '#fff', plot_bgcolor: '#fff',
  showlegend: false,
  font: { family: 'Liberation Sans, Arial, sans-serif', size: 13, color: '#000' }
};
const serif = 'DejaVu Serif, Liberation Serif, serif';

panels.forEach((p, pi) => {
  const xa = 'x' + p.ax, ya = 'y' + p.ax;
  const nh3 = build(p.nh3[0], p.nh3[1], p.nh3[2], p.off.nh3);
  const nh3r = build(p.nh3r[0], p.nh3r[1], p.nh3r[2], p.off.nh3r);
  const hc = build(p.hc[0], p.hc[1], p.hc[2], 0);
  const hcr = build(p.hcr[0], p.hcr[1], p.hcr[2], p.off.hcr);
  traces.push({ type: 'scatter', mode: 'lines', xaxis: xa, yaxis: ya, x: [nh3.x[0], nh3.x[nh3.x.length - 1]], y: [p.off.nh3, p.off.nh3], line: { color: '#000', width: 1.3 }, hoverinfo: 'skip' });
  traces.push({ type: 'scatter', mode: 'lines', xaxis: xa, yaxis: ya, x: [hc.x[0], hc.x[hc.x.length - 1]], y: [0, 0], line: { color: '#000', width: 1.3 }, hoverinfo: 'skip' });
  [[nh3, 1.5], [nh3r, 1.2], [hc, 1.4], [hcr, 1.2]].forEach(([s, w]) => {
    traces.push({ type: 'scatter', mode: 'lines', xaxis: xa, yaxis: ya, x: s.x, y: s.y, line: { color: '#000', width: w } });
  });
  [[p.nwin, p.off.nh3 - p.wdrop[0]], [p.hwin, -p.wdrop[1]]].forEach(([wins, yb]) => {
    const wx = [], wy = [];
    wins.forEach(([a, b]) => { wx.push(a, b, null); wy.push(yb, yb, null); });
    traces.push({ type: 'scatter', mode: 'lines+markers', xaxis: xa, yaxis: ya, x: wx, y: wy,
      line: { color: '#000', width: 2 }, marker: { symbol: 'line-ns-open', size: 6, line: { color: '#000', width: 1.6 } } });
  });
  traces.push({ type: 'scatter', mode: 'text', xaxis: xa, yaxis: ya, cliponaxis: false,
    x: [p.lab.name[0], p.lab.nh3[0], p.lab.hc[0], p.lab.sn1[0], p.lab.sn2[0]],
    y: [p.lab.name[1], p.lab.nh3[1], p.lab.hc[1], p.lab.sn1[1], p.lab.sn2[1]],
    text: [sourceNames[pi], nh3Label, hc3nLabel, snLabels[pi][0], snLabels[pi][1]],
    textposition: 'middle right',
    textfont: { family: serif, size: [16, 16, 16, 15, 15], color: '#000' }, hoverinfo: 'skip' });
  const xkey = 'xaxis' + p.ax, ykey = 'yaxis' + p.ax;
  layout[xkey] = {
    domain: [0, 1], anchor: ya, range: p.xr, showgrid: false, zeroline: false,
    showline: true, linecolor: '#000', linewidth: 1.3, mirror: 'allticks',
    ticks: 'inside', ticklen: 7, tickwidth: 1, tickcolor: '#000', tick0: 0, dtick: xTickStep,
    minor: { dtick: 1, tick0: 0, ticks: 'inside', ticklen: 4, tickwidth: 1, tickcolor: '#000' },
    tickfont: { family: 'Liberation Sans, Arial, sans-serif', size: 13, color: '#000' },
    ticklabelstandoff: 3
  };
  layout[ykey] = {
    domain: p.dom, anchor: xa, range: p.yr, showgrid: false, zeroline: false,
    showline: true, linecolor: '#000', linewidth: 1.3, mirror: 'allticks',
    ticks: 'inside', ticklen: 8, tickwidth: 1, tickcolor: '#000',
    tickmode: 'array', tickvals: [0, p.off.nh3], ticktext: yTickText,
    tickfont: { family: 'Liberation Sans, Arial, sans-serif', size: 13, color: '#000' },
    ticklabelstandoff: 2
  };
});

layout.annotations = [{ xref: 'paper', yref: 'paper', x: 0.572, y: -0.0346, xanchor: 'center', yanchor: 'middle',
  showarrow: false, text: xTitle, font: { family: serif, size: 20, color: '#000' } }];

Plotly.newPlot('chart', traces, layout, { staticPlot: true, displayModeBar: false });
</script>
</body>
</html>
